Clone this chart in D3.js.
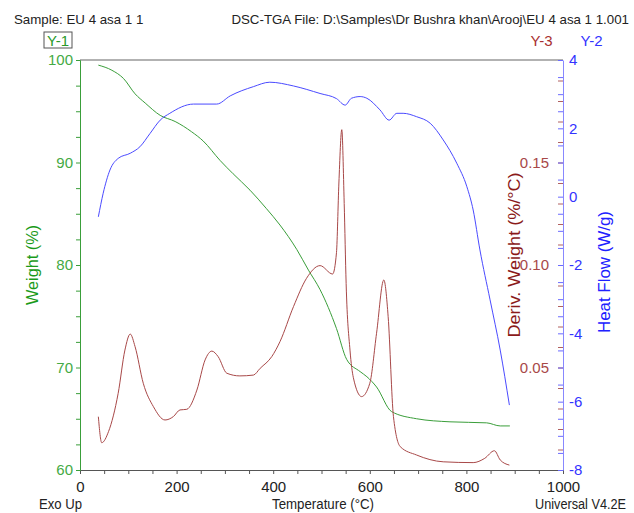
<!DOCTYPE html>
<html><head><meta charset="utf-8">
<script src="https://cdn.jsdelivr.net/npm/d3@7"></script>
<style>body{margin:0;background:#fff;}svg{display:block;font-family:"Liberation Sans",Arial,sans-serif;}</style>
</head><body><svg id="c" width="634" height="513"></svg>
<script>
const weightT = [38,66,90,114,135,166,197,231,255,290,317,352,386,414,449,473,497,531,552,580,594,614,645,697,766,842,870,890];
const weightV = [99.5,99.0,98.2,96.7,95.8,94.6,94.0,93.0,92.1,90.2,88.9,87.3,85.5,83.9,81.5,79.5,77.6,73.8,70.8,69.6,69.1,68.1,65.7,65.0,64.7,64.6,64.3,64.3];
const heatT = [38,48,62,79,104,124,145,166,186,235,283,311,359,393,442,497,531,549,562,580,594,621,640,656,669,697,725,752,780,801,814,828,849,870,889];
const heatV = [-0.59,0.10,0.78,1.12,1.27,1.46,1.85,2.24,2.44,2.71,2.71,2.95,3.22,3.35,3.24,3.02,2.87,2.68,2.88,2.93,2.88,2.54,2.24,2.44,2.44,2.34,2.15,1.66,0.98,0.29,-0.39,-1.56,-3.02,-4.49,-6.1];
const derivT = [38,45,59,79,93,104,114,131,152,176,193,207,221,242,259,273,286,304,331,359,373,397,414,442,469,497,523,531,536,542,547,551,559,566,583,600,614,629,638,649,663,697,752,814,838,858,870,889];
const derivV = [0.026,0.0133,0.0187,0.0374,0.0585,0.0663,0.0602,0.0423,0.0309,0.0244,0.026,0.0293,0.0296,0.039,0.0537,0.058,0.0553,0.0472,0.0459,0.0463,0.0496,0.0553,0.0626,0.0797,0.0935,0.0997,0.0956,0.106,0.14,0.166,0.13,0.091,0.0585,0.045,0.0358,0.0423,0.0667,0.0927,0.0748,0.026,0.0114,0.0073,0.004,0.0036,0.0057,0.0094,0.0049,0.0024];
const xTicks = [0,200,400,600,800,1000];
const weightTicks = [60,70,80,90,100];
const heatTicks = [-8,-6,-4,-2,0,2,4];
const derivTicks = [0.05,0.10,0.15];

const svg = d3.select("#c");
const L=80,R=563,T=60,B=470;
const x = d3.scaleLinear().domain([0,1000]).range([L,R]);
const yW = d3.scaleLinear().domain([60,100]).range([B,T]);
const yH = d3.scaleLinear().domain([-8,4]).range([B,T]);
const yD = d3.scaleLinear().domain([0,0.2]).range([B,T]);

const green="#3a9e3a", blue="#4a4aff", red="#a84848";

svg.append("line").attr("x1",L).attr("x2",R).attr("y1",T).attr("y2",T).attr("stroke","#999").attr("stroke-width",1.3);

const gx = svg.append("g").attr("transform",`translate(0,${B})`)
 .call(d3.axisBottom(x).tickValues(d3.range(0,1001,50)).tickSize(4).tickFormat(d=>xTicks.includes(d)?d:""));
gx.select(".domain").attr("stroke","#555");
gx.selectAll(".tick line").attr("stroke","#555");
gx.selectAll("text").attr("font-size",15).attr("fill","#222").attr("y",22).attr("dy",0);

const gl = svg.append("g").attr("transform",`translate(${L},0)`)
 .call(d3.axisLeft(yW).tickValues(d3.range(60,100.1,2.5)).tickSize(4).tickFormat(d=>weightTicks.includes(d)?d:""));
gl.select(".domain").attr("stroke",green);
gl.selectAll(".tick line").attr("stroke",green);
gl.selectAll("text").attr("font-size",15).attr("fill","#44aa44");

const gd = svg.append("g").attr("transform",`translate(${R},0)`)
 .call(d3.axisLeft(yD).tickValues(d3.range(0.01,0.2,0.01)).tickSize(5).tickFormat(d=>derivTicks.some(t=>Math.abs(t-d)<1e-6)?d3.format(".2f")(d):""));
gd.select(".domain").remove();
gd.selectAll(".tick line").attr("stroke","#b06060");
gd.selectAll("text").attr("font-size",15).attr("fill","#a84848").attr("dx","-6");
const gh = svg.append("g").attr("transform",`translate(${R},0)`)
 .call(d3.axisRight(yH).tickValues(d3.range(-8,4.01,0.5)).tickSize(0).tickFormat(d=>heatTicks.includes(d)?d:""));
gh.select(".domain").attr("stroke","#8888ff");
gh.selectAll(".tick line").remove();
gh.selectAll(".tick").append("line").attr("x1",-5).attr("x2",0).attr("stroke","#6b6bff");
gh.selectAll("text").attr("font-size",15).attr("fill","#3333ff").attr("dx","3");

const line=(xs,ys,sy)=>d3.line().curve(d3.curveMonotoneX).x((d,i)=>x(xs[i])).y((d,i)=>sy(ys[i]))(xs);
svg.append("path").attr("d",line(weightT,weightV,yW)).attr("fill","none").attr("stroke",green).attr("stroke-width",1);
svg.append("path").attr("d",line(heatT,heatV,yH)).attr("fill","none").attr("stroke",blue).attr("stroke-width",1);
svg.append("path").attr("d",line(derivT,derivV,yD)).attr("fill","none").attr("stroke",red).attr("stroke-width",1);

const txt=(s,xx,yy,o)=>{const t=svg.append("text").attr("x",xx).attr("y",yy).text(s).attr("font-size",o.size||13).attr("fill",o.fill||"#222");
 if(o.anchor)t.attr("text-anchor",o.anchor); if(o.rot)t.attr("transform",`rotate(-90,${xx},${yy})`); if(o.len)t.attr("textLength",o.len).attr("lengthAdjust","spacingAndGlyphs"); return t;};
txt("Sample: EU 4 asa 1 1",14,24,{size:13.3});
txt("DSC-TGA File: D:\\Samples\\Dr Bushra khan\\Arooj\\EU 4 asa 1 1.001",629,24,{size:13.3,anchor:"end"});
svg.append("rect").attr("x",44).attr("y",32).attr("width",28).attr("height",16).attr("fill","none").attr("stroke","#555");
txt("Y-1",58,46,{anchor:"middle",size:15,fill:"#2a9a2a"});
txt("Y-3",541.5,46,{anchor:"middle",size:15,fill:"#a83030"});
txt("Y-2",591.5,46,{anchor:"middle",size:15,fill:"#3333ff"});
txt("Weight (%)",38,265,{anchor:"middle",rot:true,size:16,fill:"#1a9a1a",len:80});
txt("Deriv. Weight (%/°C)",520,255,{anchor:"middle",rot:true,size:16,fill:"#8b1a1a",len:165});
txt("Heat Flow (W/g)",610,272,{anchor:"middle",rot:true,size:16,fill:"#2020ff",len:122});
txt("Exo Up",39,509,{size:14,len:43});
txt("Temperature (°C)",272,509,{size:14,len:102});
txt("Universal V4.2E",535,509,{size:14,len:91});
</script></body></html>
